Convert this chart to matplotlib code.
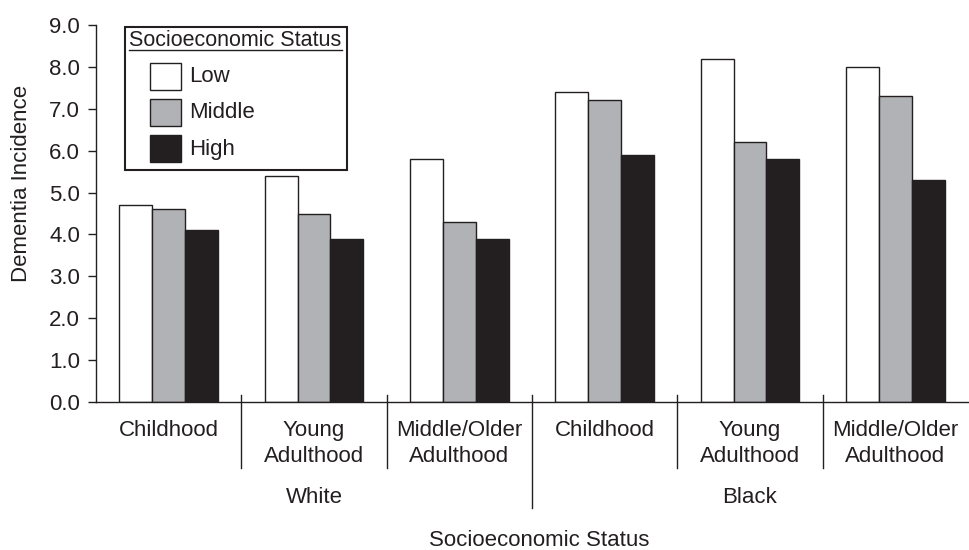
import numpy as np
import matplotlib.pyplot as plt
from matplotlib.patches import Rectangle
from matplotlib.lines import Line2D

plt.rcParams['font.family'] = ['Liberation Sans', 'DejaVu Sans']

periodos = ['Childhood', 'Young\nAdulthood', 'Middle/Older\nAdulthood'] * 2
razas = ['White', 'Black']
niveles = ['Low', 'Middle', 'High']
bajo = [4.7, 5.4, 5.8, 7.4, 8.2, 8.0]
medio = [4.6, 4.5, 4.3, 7.2, 6.2, 7.3]
alto = [4.1, 3.9, 3.9, 5.9, 5.8, 5.3]

tinta = '#231f20'
colores = ['white', '#b1b2b5', tinta]

W, H = 969, 550
fig = plt.figure(figsize=(W/100, H/100), dpi=100)
ax = fig.add_axes([96/W, 1 - 402/H, 872/W, 377/H])

x = np.arange(len(periodos))
ancho = 0.226
for k, serie in enumerate([bajo, medio, alto]):
    ax.bar(x + (k - 1)*ancho, serie, ancho, color=colores[k],
           edgecolor=tinta, linewidth=1.0, zorder=2)

ax.set_xlim(-0.5, 5.5)
ax.set_ylim(0, 9)
ax.set_yticks(np.arange(0, 9.1, 1))
ax.set_yticklabels(['%.1f' % v for v in np.arange(0, 9.1, 1)])
ax.tick_params(axis='y', length=6, width=1.0, pad=5.5, labelsize=16,
               colors=tinta)
ax.set_xticks(x)
ax.set_xticklabels(periodos, fontsize=16, color=tinta, linespacing=1.3)
ax.tick_params(axis='x', length=0, pad=13)
for lado in ['top', 'right']:
    ax.spines[lado].set_visible(False)
for lado in ['left', 'bottom']:
    ax.spines[lado].set_color(tinta)
    ax.spines[lado].set_linewidth(1.0)

# separadores entre grupos
tr = ax.get_xaxis_transform()
for s in [0.5, 1.5, 3.5, 4.5]:
    ax.plot([s, s], [0.0186, -0.175], color=tinta, lw=1.0,
            transform=tr, clip_on=False)
ax.plot([2.5, 2.5], [0.0186, -0.281], color=tinta, lw=1.0,
        transform=tr, clip_on=False)

for i, r in enumerate(razas):
    ax.text(1 + 3*i, -0.252, r, transform=tr, ha='center', va='center',
            fontsize=16, color=tinta)

fig.text(539/W, 1 - 540/H, 'Socioeconomic Status', ha='center',
         va='center', fontsize=16, color=tinta)
fig.text(22/W, 1 - 183/H, 'Dementia Incidence', ha='center',
         va='center', rotation=90, fontsize=16, color=tinta)

# leyenda dibujada a mano (titulo subrayado, cuadros sangrados)
def px(xp, yp):
    return xp / W, 1 - yp / H

x0, y0 = px(125, 170)
fig.add_artist(Rectangle((x0, y0), 222/W, 143/H, transform=fig.transFigure,
                         facecolor='white', edgecolor=tinta, lw=1.5,
                         zorder=5))
tx, ty = px(129, 40)
fig.text(tx, ty, 'Socioeconomic Status', ha='left', va='center',
         fontsize=15.5, color=tinta, zorder=6)
ux0, uy = px(129, 49.5)
ux1, _ = px(342, 49.5)
fig.add_artist(Line2D([ux0, ux1], [uy, uy], color=tinta, lw=1.0,
                      transform=fig.transFigure, zorder=6))
for i, (nivel, c) in enumerate(zip(niveles, colores)):
    arriba = 63 + 36*i
    hx, hy = px(150, arriba + 27)
    fig.add_artist(Rectangle((hx, hy), 31/W, 27/H, transform=fig.transFigure,
                             facecolor=c, edgecolor=tinta, lw=1.0, zorder=6))
    lx, ly = px(189, arriba + 14)
    fig.text(lx, ly, nivel, ha='left', va='center', fontsize=16,
             color=tinta, zorder=6)

fig.savefig('out.png', dpi=100)
